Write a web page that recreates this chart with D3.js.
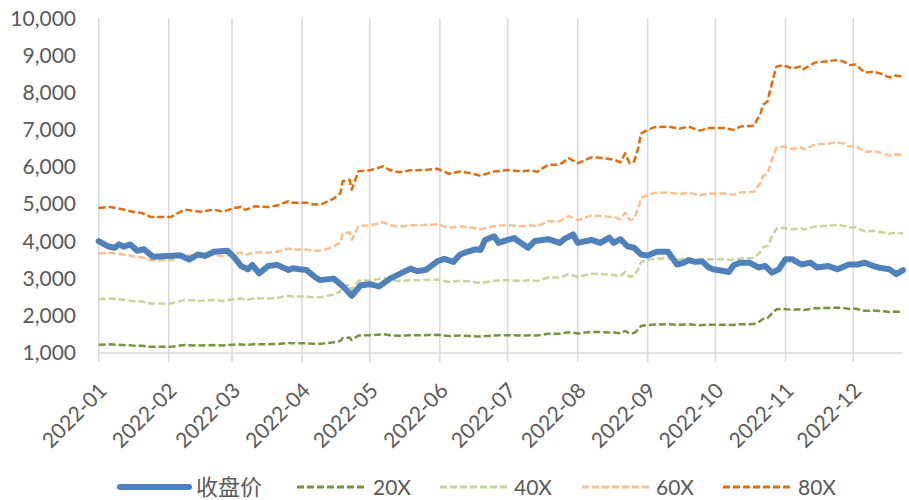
<!DOCTYPE html>
<html>
<head>
<meta charset="utf-8">
<script src="https://cdn.jsdelivr.net/npm/d3@7"></script>
<style>
  html, body { margin: 0; padding: 0; background: #fff; }
  svg { display: block; }
  text { font-family: "Lato", "Liberation Sans", sans-serif; fill: #595959; }
  .cjk { font-family: "Noto Sans CJK SC", sans-serif; }
</style>
</head>
<body>
<svg id="chart" width="909" height="500"></svg>
<script>
// Daily close of the index (date, value)
const closeSeries = [
  ["2022-01-01",4010],["2022-01-05",3870],["2022-01-08",3830],["2022-01-10",3920],["2022-01-12",3860],
  ["2022-01-15",3920],["2022-01-18",3750],["2022-01-21",3790],["2022-01-25",3590],["2022-02-01",3610],
  ["2022-02-06",3630],["2022-02-10",3510],["2022-02-14",3650],["2022-02-17",3610],["2022-02-21",3720],
  ["2022-02-27",3750],["2022-03-02",3570],["2022-03-05",3340],["2022-03-08",3250],["2022-03-10",3370],
  ["2022-03-13",3140],["2022-03-17",3340],["2022-03-21",3370],["2022-03-26",3230],["2022-03-28",3280],
  ["2022-03-31",3250],["2022-04-03",3230],["2022-04-07",3030],["2022-04-09",2960],["2022-04-15",3000],
  ["2022-04-19",2800],["2022-04-23",2540],["2022-04-27",2820],["2022-05-01",2850],["2022-05-05",2790],
  ["2022-05-10",3000],["2022-05-14",3120],["2022-05-19",3270],["2022-05-22",3200],["2022-05-26",3240],
  ["2022-05-31",3470],["2022-06-03",3530],["2022-06-07",3450],["2022-06-10",3650],["2022-06-13",3720],
  ["2022-06-17",3790],["2022-06-19",3770],["2022-06-21",4040],["2022-06-25",4140],["2022-06-27",3960],
  ["2022-07-01",4040],["2022-07-04",4090],["2022-07-05",4040],["2022-07-10",3830],["2022-07-13",4010],
  ["2022-07-19",4060],["2022-07-24",3960],["2022-07-26",4060],["2022-07-30",4190],["2022-08-01",3960],
  ["2022-08-07",4040],["2022-08-11",3960],["2022-08-15",4100],["2022-08-17",3960],["2022-08-20",4060],
  ["2022-08-23",3870],["2022-08-26",3830],["2022-08-29",3650],["2022-09-01",3620],["2022-09-05",3720],
  ["2022-09-10",3720],["2022-09-14",3380],["2022-09-17",3430],["2022-09-19",3500],["2022-09-22",3450],
  ["2022-09-25",3470],["2022-09-28",3300],["2022-09-30",3250],["2022-10-07",3180],["2022-10-09",3360],
  ["2022-10-12",3430],["2022-10-16",3430],["2022-10-20",3300],["2022-10-23",3340],["2022-10-26",3160],
  ["2022-10-29",3250],["2022-11-01",3520],["2022-11-04",3520],["2022-11-08",3380],["2022-11-12",3430],
  ["2022-11-15",3300],["2022-11-20",3340],["2022-11-24",3250],["2022-11-29",3380],["2022-12-03",3380],
  ["2022-12-06",3430],["2022-12-09",3360],["2022-12-12",3300],["2022-12-17",3250],["2022-12-20",3120],
  ["2022-12-23",3230]
];

// Earnings per share behind the PE bands (date, EPS)
const epsSeries = [
  ["2022-01-01",61.25],["2022-01-06",61.6],["2022-01-11",60.9],["2022-01-16",60.0],["2022-01-20",59.6],
  ["2022-01-24",58.25],["2022-02-02",58.25],["2022-02-08",60.7],["2022-02-15",60.0],["2022-02-21",60.7],
  ["2022-02-25",60.0],["2022-03-02",61.25],["2022-03-05",61.6],["2022-03-07",60.6],["2022-03-11",61.8],
  ["2022-03-17",61.6],["2022-03-21",62.05],["2022-03-26",63.5],["2022-03-28",63.0],["2022-04-03",63.0],
  ["2022-04-06",62.4],["2022-04-10",62.6],["2022-04-15",64.4],["2022-04-18",66.25],["2022-04-19",70.2],
  ["2022-04-22",70.75],["2022-04-23",67.4],["2022-04-26",73.6],["2022-05-01",73.9],["2022-05-07",75.25],
  ["2022-05-10",73.9],["2022-05-14",73.25],["2022-05-19",73.9],["2022-05-25",74.0],["2022-05-31",74.4],
  ["2022-06-05",72.75],["2022-06-10",73.5],["2022-06-14",73.0],["2022-06-19",72.1],["2022-06-25",73.5],
  ["2022-07-01",74.0],["2022-07-07",73.5],["2022-07-11",73.9],["2022-07-14",73.4],["2022-07-19",75.75],
  ["2022-07-24",75.75],["2022-07-28",78.0],["2022-08-01",76.25],["2022-08-07",78.25],["2022-08-11",78.1],
  ["2022-08-17",77.5],["2022-08-20",76.6],["2022-08-22",79.6],["2022-08-24",76.25],["2022-08-26",76.9],
  ["2022-08-28",81.9],["2022-08-29",86.25],["2022-09-01",87.5],["2022-09-04",88.4],["2022-09-10",88.6],
  ["2022-09-15",87.9],["2022-09-19",88.6],["2022-09-24",87.25],["2022-09-28",88.1],["2022-10-05",88.1],
  ["2022-10-09",87.5],["2022-10-12",88.6],["2022-10-18",88.9],["2022-10-21",93.1],["2022-10-22",95.9],
  ["2022-10-24",97.0],["2022-10-26",103.25],["2022-10-28",108.75],["2022-10-31",109.25],["2022-11-04",108.1],
  ["2022-11-08",108.9],["2022-11-09",107.9],["2022-11-14",110.1],["2022-11-20",110.6],["2022-11-24",111.0],
  ["2022-11-27",110.4],["2022-11-29",109.25],["2022-12-02",109.5],["2022-12-06",106.75],["2022-12-10",107.1],
  ["2022-12-13",106.4],["2022-12-17",105.1],["2022-12-19",105.75],["2022-12-22",105.5],["2022-12-23",105.6]
];

// PE multiples drawn as bands
const multiples = [20, 40, 60, 80];
const bandNames = ["20X", "40X", "60X", "80X"];
const closeName = "收盘价";

// Axis ticks
const yTicks = [1000, 2000, 3000, 4000, 5000, 6000, 7000, 8000, 9000, 10000];
const xTickDates = ["2022-01-01","2022-02-01","2022-03-01","2022-04-01","2022-05-01","2022-06-01",
                    "2022-07-01","2022-08-01","2022-09-01","2022-10-01","2022-11-01","2022-12-01"];

const bandColors = ["#77933c", "#c3d69b", "#fac090", "#e46c0a"];
const closeColor = "#4f81bd";

const parse = d3.timeParse("%Y-%m-%d");
const svg = d3.select("#chart");

const plot = { left: 98.7, right: 903, top: 18.3, bottom: 353 };

const x = d3.scaleTime()
  .domain([parse("2022-01-01"), parse("2022-12-23")])
  .range([plot.left, plot.right]);
const y = d3.scaleLinear()
  .domain([1000, 10000])
  .range([plot.bottom, plot.top]);

// vertical month gridlines (extend slightly below the axis as tick marks)
svg.append("g").selectAll("line")
  .data(xTickDates.map(parse))
  .join("line")
  .attr("x1", d => x(d)).attr("x2", d => x(d))
  .attr("y1", plot.top).attr("y2", plot.bottom + 9)
  .attr("stroke", "#d9d9d9").attr("stroke-width", 1.5);

// horizontal category axis line
svg.append("line")
  .attr("x1", plot.left).attr("x2", plot.right)
  .attr("y1", y(1000)).attr("y2", y(1000))
  .attr("stroke", "#d9d9d9").attr("stroke-width", 1.5);

// y-axis labels
const yAxis = d3.axisLeft(y).tickValues(yTicks).tickFormat(d3.format(",")).tickSize(0).tickPadding(0);
const gy = svg.append("g").attr("transform", `translate(76,0)`).call(yAxis);
gy.select(".domain").remove();
gy.selectAll("text").attr("font-size", 21).attr("fill", "#595959")
  .style("font-family", "Lato, 'Liberation Sans', sans-serif");

// x-axis labels, rotated
const xAxis = d3.axisBottom(x).tickValues(xTickDates.map(parse)).tickFormat(d3.timeFormat("%Y-%m")).tickSize(0);
const gx = svg.append("g").attr("transform", `translate(0,${plot.bottom})`).call(xAxis);
gx.select(".domain").remove();
gx.selectAll("text")
  .attr("font-size", 21).attr("fill", "#595959")
  .style("font-family", "Lato, 'Liberation Sans', sans-serif")
  .attr("text-anchor", "end")
  .attr("dy", null)
  .attr("y", 0)
  .attr("transform", "translate(9,39) rotate(-45)");

// PE band lines
const bandLine = d3.line()
  .x(d => x(parse(d[0])))
  .y(d => y(d[1]));

multiples.forEach((m, i) => {
  svg.append("path")
    .datum(epsSeries.map(([dt, e]) => [dt, e * m]))
    .attr("fill", "none")
    .attr("stroke", bandColors[i])
    .attr("stroke-width", 2.5)
    .attr("stroke-dasharray", "7,3")
    .attr("stroke-linejoin", "round")
    .attr("d", bandLine);
});

// closing price line on top
svg.append("path")
  .datum(closeSeries)
  .attr("fill", "none")
  .attr("stroke", closeColor)
  .attr("stroke-width", 6)
  .attr("stroke-linejoin", "round")
  .attr("stroke-linecap", "round")
  .attr("d", bandLine);

// legend
const legendY = 487;
const legendItems = [
  { name: closeName, color: closeColor, dashed: false, x0: 120, x1: 189, tx: 196, cjk: true },
  { name: bandNames[0], color: bandColors[0], dashed: true, x0: 297, x1: 367, tx: 373 },
  { name: bandNames[1], color: bandColors[1], dashed: true, x0: 440, x1: 507, tx: 514 },
  { name: bandNames[2], color: bandColors[2], dashed: true, x0: 582, x1: 650, tx: 656 },
  { name: bandNames[3], color: bandColors[3], dashed: true, x0: 723, x1: 792, tx: 798 }
];
const lg = svg.append("g");
legendItems.forEach(it => {
  lg.append("line")
    .attr("x1", it.x0).attr("x2", it.x1)
    .attr("y1", legendY).attr("y2", legendY)
    .attr("stroke", it.color)
    .attr("stroke-width", it.dashed ? 3 : 6)
    .attr("stroke-linecap", it.dashed ? "butt" : "round")
    .attr("stroke-dasharray", it.dashed ? "7,3" : null);
  lg.append("text")
    .attr("class", it.cjk ? "cjk" : null)
    .attr("x", it.tx).attr("y", legendY)
    .attr("dy", "0.36em")
    .attr("font-size", it.cjk ? 22 : 21)
    .text(it.name);
});
</script>
</body>
</html>
